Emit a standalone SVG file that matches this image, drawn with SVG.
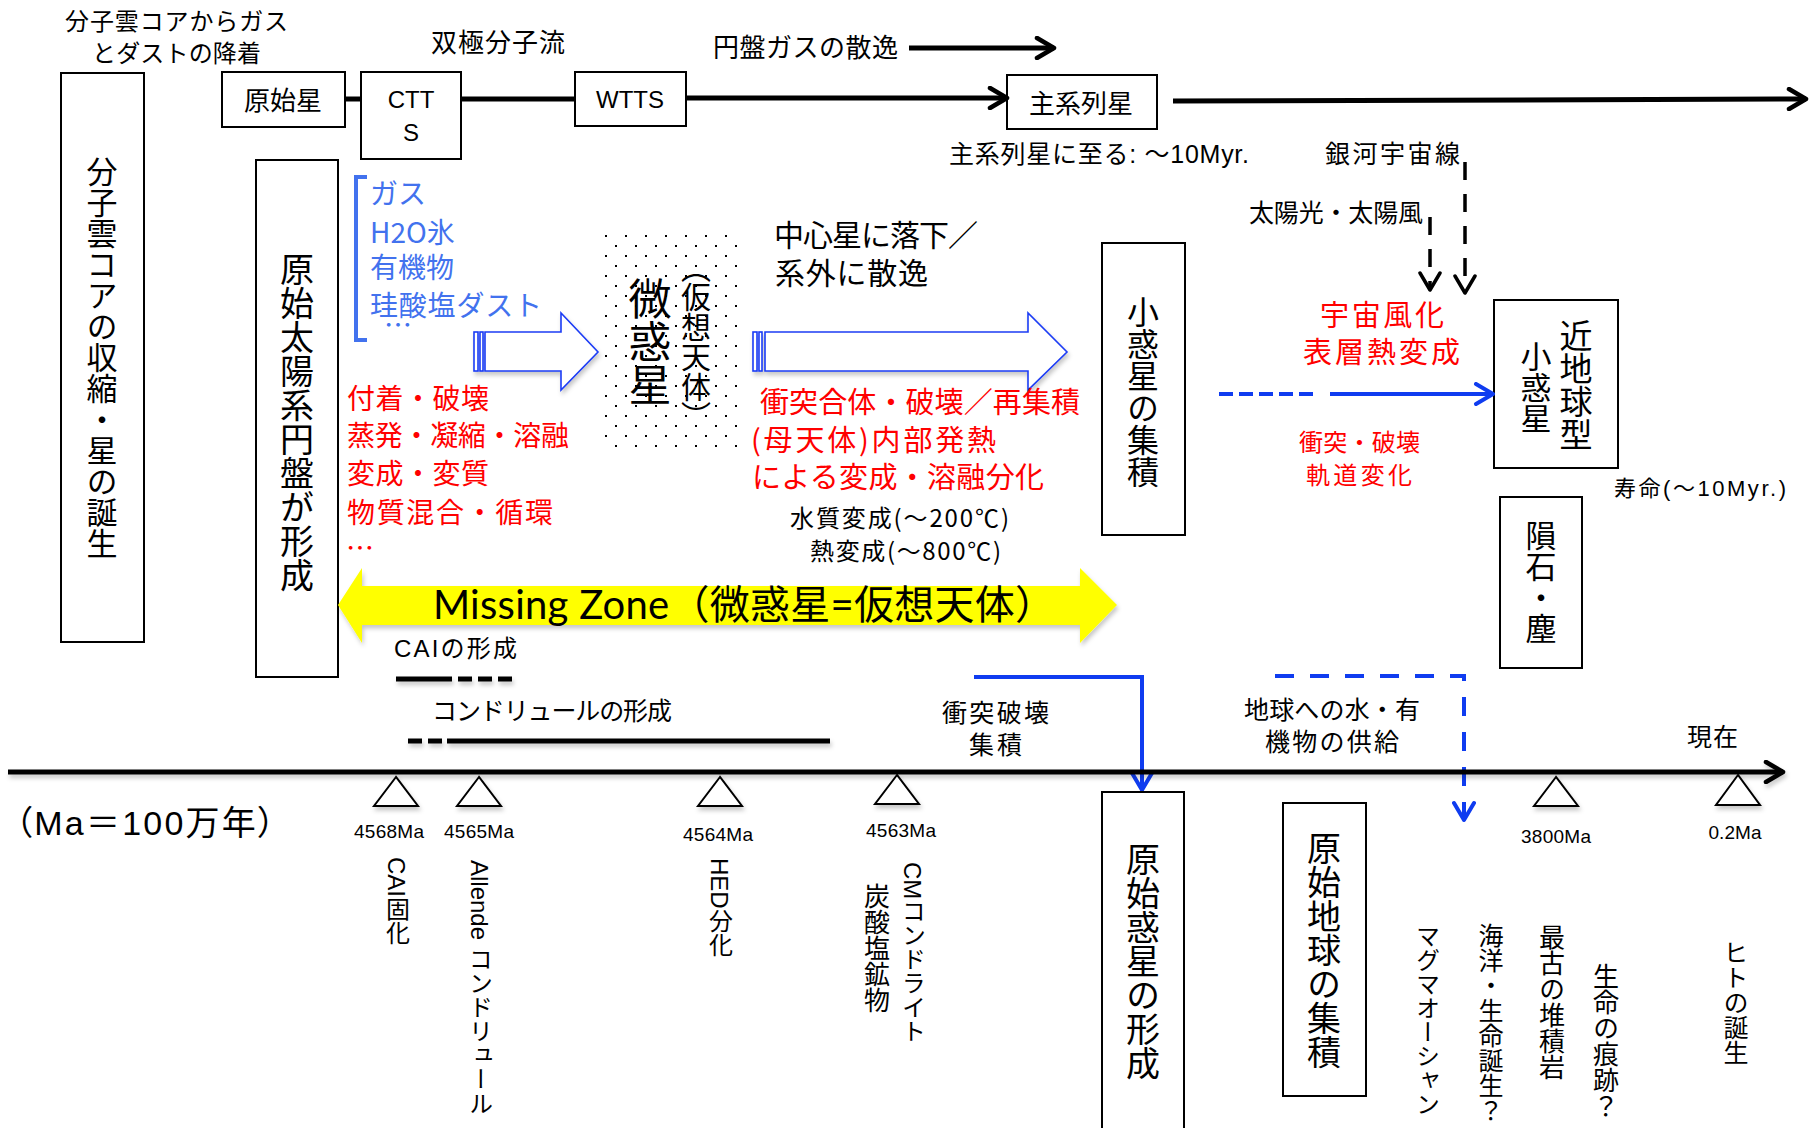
<svg xmlns="http://www.w3.org/2000/svg" width="1812" height="1128" viewBox="0 0 1812 1128">
<style>
text{font-family:"Noto Sans CJK JP","Liberation Sans",sans-serif;fill:#000}
.lat{font-family:"Liberation Sans","Noto Sans CJK JP",sans-serif}
.v{writing-mode:vertical-rl}
.red{fill:#FF0000}
.blu{fill:#4272EE}
.box{fill:#fff;stroke:#000;stroke-width:2}
.ln{stroke:#000;stroke-width:5;fill:none}
.bl{stroke:#0F3CF0;stroke-width:4;fill:none}
.dsh{stroke:#000;stroke-width:3.5;fill:none;stroke-dasharray:18 14}
.tri{fill:#fff;stroke:#000;stroke-width:2}
.ha{fill:#fff;stroke:#1C3CF5;stroke-width:1.6}
.ma{font-family:"Liberation Sans",sans-serif;font-size:19px;text-anchor:middle}
.sh{filter:url(#shadow)}
</style>
<defs>
<filter id="shadow" filterUnits="userSpaceOnUse" x="0" y="0" width="1812" height="1128"><feDropShadow dx="1.5" dy="3.5" stdDeviation="2" flood-color="#000" flood-opacity="0.22"/></filter>
<marker id="ak" viewBox="0 0 28 24" refX="21" refY="12" markerWidth="28" markerHeight="24" markerUnits="userSpaceOnUse" orient="auto"><path d="M4,2 L21,12 L4,22" fill="none" stroke="#000" stroke-width="4.5" stroke-linejoin="round" stroke-linecap="round"/></marker>
<marker id="akd" viewBox="0 0 26 24" refX="20" refY="12" markerWidth="26" markerHeight="24" markerUnits="userSpaceOnUse" orient="auto"><path d="M3,2 L20,12 L3,22" fill="none" stroke="#000" stroke-width="3.5" stroke-linejoin="round" stroke-linecap="round"/></marker>
<marker id="ab" viewBox="0 0 26 24" refX="20" refY="12" markerWidth="26" markerHeight="24" markerUnits="userSpaceOnUse" orient="auto"><path d="M3,2 L20,12 L3,22" fill="none" stroke="#0F3CF0" stroke-width="4" stroke-linejoin="round" stroke-linecap="round"/></marker>
<pattern id="dots" x="605" y="235" width="20" height="20" patternUnits="userSpaceOnUse"><rect x="0" y="0" width="2" height="2" fill="#000"/><rect x="10" y="10" width="2" height="2" fill="#000"/></pattern>
</defs>
<rect width="1812" height="1128" fill="#fff"/>

<!-- top labels -->
<g id="lbl-core-accretion">
<text font-size="24"><tspan x="65" y="30" textLength="223">分子雲コアからガス</tspan><tspan x="92" y="62" textLength="169">とダストの降着</tspan></text>
</g>
<g id="lbl-bipolar"><text x="431" y="52" font-size="26" textLength="134">双極分子流</text></g>
<g id="lbl-disk-gas"><text x="713" y="57" font-size="26" textLength="185">円盤ガスの散逸</text></g>

<!-- nodes: star evolution -->
<g id="node-protostar"><rect class="box" x="222" y="72" width="123" height="55"/><text x="283" y="110" font-size="26" text-anchor="middle">原始星</text></g>
<g id="node-ctts"><rect class="box" x="361" y="72" width="100" height="87"/><text class="lat" font-size="24" text-anchor="middle"><tspan x="411" y="108">CTT</tspan><tspan x="411" y="141">S</tspan></text></g>
<g id="node-wtts"><rect class="box" x="575" y="72" width="111" height="54"/><text class="lat" x="630" y="108" font-size="24" text-anchor="middle">WTTS</text></g>
<g id="node-mainseq"><rect class="box" x="1007" y="75" width="150" height="54"/><text x="1081" y="113" font-size="26" text-anchor="middle">主系列星</text></g>
<g id="lbl-to-mainseq"><text class="lat" x="949" y="163" font-size="25" textLength="300">主系列星に至る: ～10Myr.</text></g>
<g id="lbl-gcr"><text x="1325" y="163" font-size="25" textLength="135">銀河宇宙線</text></g>
<g id="lbl-sun"><text x="1249" y="222" font-size="25" textLength="174">太陽光・太陽風</text></g>

<!-- big vertical boxes -->
<g id="node-cloud-core"><rect class="box" x="61" y="73" width="83" height="569"/><text class="v" x="102" y="357" font-size="31" text-anchor="middle">分子雲コアの収縮・星の誕生</text></g>
<g id="node-disk"><rect class="box" x="256" y="160" width="82" height="517"/><text class="v" x="297" y="422" font-size="34" text-anchor="middle">原始太陽系円盤が形成</text></g>

<!-- blue material list -->
<g id="lbl-materials">
<path d="M367,177 H356 V340 H367" fill="none" stroke="#4272EE" stroke-width="4"/>
<text class="blu" font-size="28"><tspan x="370" y="204">ガス</tspan><tspan x="370" y="243">H2O氷</tspan><tspan x="370" y="278">有機物</tspan><tspan x="370" y="316" textLength="172">珪酸塩ダスト</tspan><tspan x="384" y="336">…</tspan></text>
</g>

<!-- red process list -->
<g id="lbl-processes">
<text class="red" font-size="28"><tspan x="347" y="409" textLength="142">付着・破壊</tspan><tspan x="347" y="446" textLength="222">蒸発・凝縮・溶融</tspan><tspan x="347" y="484" textLength="142">変成・変質</tspan><tspan x="347" y="523" textLength="206">物質混合・循環</tspan><tspan x="346" y="559">…</tspan></text>
</g>

<!-- hollow arrows -->
<g id="arrow-to-planetesimal" class="sh">
<rect class="ha" x="474" y="332" width="4" height="39"/><rect class="ha" x="480" y="332" width="3" height="39"/>
<polygon class="ha" points="485,332 561,332 561,313 598,352 561,390 561,371 485,371"/>
</g>
<g id="arrow-to-asteroid" class="sh">
<rect class="ha" x="753" y="332" width="4" height="39"/><rect class="ha" x="759" y="332" width="3" height="39"/>
<polygon class="ha" points="765,332 1028,332 1028,313 1067,352 1028,390 1028,371 765,371"/>
</g>

<!-- planetesimal -->
<g id="node-planetesimal">
<rect x="603" y="233" width="134" height="214" fill="url(#dots)"/>
<text class="v" x="650" y="342" font-size="43" text-anchor="middle" fill="#3F6FE8">微惑星</text>
<text class="v" x="696" y="342" font-size="30" text-anchor="middle" fill="#5580F0" style="font-feature-settings:'vpal'">（仮想天体）</text>
</g>

<g id="lbl-fall"><text font-size="30"><tspan x="774" y="246" textLength="204">中心星に落下／</tspan><tspan x="775" y="284" textLength="153">系外に散逸</tspan></text></g>
<g id="lbl-collision">
<text class="red" font-size="29"><tspan x="760" y="413" textLength="320">衝突合体・破壊／再集積</tspan><tspan x="751" y="451" textLength="245">(母天体)内部発熱</tspan><tspan x="752" y="488" textLength="292">による変成・溶融分化</tspan></text>
</g>
<g id="lbl-alteration">
<text font-size="24"><tspan x="790" y="527" textLength="219">水質変成(～200℃)</tspan><tspan x="810" y="560" textLength="191">熱変成(～800℃)</tspan></text>
</g>

<!-- asteroid side -->
<g id="node-asteroid-accretion"><rect class="box" x="1102" y="243" width="83" height="292"/><text class="v" x="1143" y="392" font-size="32" text-anchor="middle">小惑星の集積</text></g>
<g id="lbl-weathering">
<text class="red" font-size="29"><tspan x="1320" y="326" textLength="124">宇宙風化</tspan><tspan x="1303" y="363" textLength="157">表層熱変成</tspan></text>
</g>
<g id="lbl-orbit">
<text class="red" font-size="24"><tspan x="1299" y="451" textLength="121">衝突・破壊</tspan><tspan x="1306" y="484" textLength="106">軌道変化</tspan></text>
</g>
<g id="node-nea"><rect class="box" x="1494" y="300" width="124" height="168"/>
<text class="v" x="1576" y="385" font-size="33" text-anchor="middle">近地球型</text>
<text class="v" x="1536" y="387" font-size="31" text-anchor="middle">小惑星</text></g>
<g id="lbl-life"><text class="lat" x="1614" y="496" font-size="22" textLength="172">寿命(～10Myr.)</text></g>
<g id="node-meteorite"><rect class="box" x="1500" y="497" width="82" height="171"/><text class="v" x="1541" y="582" font-size="31" text-anchor="middle">隕石・塵</text></g>

<!-- missing zone -->
<g id="missing-zone">
<polygon class="sh" points="338,605 362,568 362,586 1080,586 1080,568 1117,605 1080,643 1080,625 362,625 362,643" fill="#FFFF00"/>
<text x="433" y="619" font-size="40" textLength="622" style="font-family:Lato,'Noto Sans CJK JP',sans-serif">Missing Zone（微惑星=仮想天体）</text>
</g>

<!-- periods -->
<g id="period-cai">
<text class="lat" x="394" y="657" font-size="24" textLength="123">CAIの形成</text>
<g class="sh"><line x1="396" y1="679" x2="452" y2="679" stroke="#000" stroke-width="5"/>
<line x1="458" y1="679" x2="514" y2="679" stroke="#000" stroke-width="5" stroke-dasharray="14 6"/></g>
</g>
<g id="period-chondrule">
<text x="432" y="720" font-size="25" textLength="240">コンドリュールの形成</text>
<g class="sh"><line x1="408" y1="741" x2="443" y2="741" stroke="#000" stroke-width="5" stroke-dasharray="14 6"/>
<line x1="447" y1="741" x2="830" y2="741" stroke="#000" stroke-width="5"/></g>
</g>
<g id="lbl-impact"><text font-size="25"><tspan x="942" y="722" textLength="107">衝突破壊</tspan><tspan x="969" y="754" textLength="53">集積</tspan></text></g>
<g id="lbl-supply"><text font-size="25"><tspan x="1244" y="719" textLength="176">地球への水・有</tspan><tspan x="1265" y="751" textLength="134">機物の供給</tspan></text></g>
<g id="lbl-now"><text x="1687" y="746" font-size="25" textLength="51">現在</text></g>
<g id="lbl-unit"><text class="lat" x="15" y="835" font-size="34" textLength="260" style="font-feature-settings:'palt'">（Ma＝100万年）</text></g>

<!-- connectors -->
<g id="connectors">
<line class="ln" x1="345" y1="99" x2="361" y2="99"/>
<line class="ln" x1="461" y1="99" x2="575" y2="99"/>
<line class="ln" x1="686" y1="98" x2="1007" y2="98" marker-end="url(#ak)"/>
<line class="ln" x1="1173" y1="101" x2="1806" y2="99" marker-end="url(#ak)"/>
<line class="ln" x1="909" y1="48" x2="1054" y2="48" marker-end="url(#ak)"/>
<line class="dsh" x1="1465" y1="162" x2="1465" y2="293" marker-end="url(#akd)"/>
<line class="dsh" x1="1430" y1="217" x2="1430" y2="290" marker-end="url(#akd)"/>
<line class="bl" x1="1219" y1="394" x2="1313" y2="394" stroke-dasharray="14 6"/>
<line class="bl" x1="1330" y1="394" x2="1493" y2="394" marker-end="url(#ab)"/>
<path class="bl" d="M974,677 H1142 V790" marker-end="url(#ab)"/>
<path class="bl" d="M1275,676 H1464 V820" stroke-dasharray="19 16" marker-end="url(#ab)"/>
<line class="ln sh" x1="8" y1="772" x2="1783" y2="772" marker-end="url(#ak)"/>
</g>

<!-- timeline markers -->
<g id="tick-4568"><polygon class="tri sh" points="396,777 374,806 418,806"/><text class="ma" x="389" y="838" textLength="70">4568Ma</text><text class="v lat" x="396" y="857" font-size="24">CAI固化</text></g>
<g id="tick-4565"><polygon class="tri sh" points="479,777 457,806 501,806"/><text class="ma" x="479" y="838" textLength="70">4565Ma</text><text class="v lat" x="479" y="860" font-size="24">Allende コンドリュール</text></g>
<g id="tick-4564"><polygon class="tri sh" points="720,777 698,806 742,806"/><text class="ma" x="718" y="841" textLength="70">4564Ma</text><text class="v lat" x="719" y="858" font-size="24">HED分化</text></g>
<g id="tick-4563"><polygon class="tri sh" points="897,775 875,804 919,804"/><text class="ma" x="901" y="837" textLength="70">4563Ma</text><text class="v lat" x="912" y="862" font-size="24">CMコンドライト</text><text class="v" x="877" y="883" font-size="26">炭酸塩鉱物</text></g>
<g id="tick-3800"><polygon class="tri sh" points="1556,777 1534,806 1578,806"/><text class="ma" x="1556" y="843" textLength="70">3800Ma</text></g>
<g id="tick-02"><polygon class="tri sh" points="1738,775 1716,805 1760,805"/><text class="ma" x="1735" y="839" textLength="53">0.2Ma</text></g>

<g id="node-protoplanet"><rect class="box" x="1102" y="792" width="82" height="345"/><text class="v" x="1143" y="961" font-size="34" text-anchor="middle">原始惑星の形成</text></g>
<g id="node-protoearth"><rect class="box" x="1283" y="803" width="83" height="293"/><text class="v" x="1324" y="950" font-size="34" text-anchor="middle">原始地球の集積</text></g>
<g id="ev-magma"><text class="v" x="1428" y="924" font-size="24">マグマオーシャン</text></g>
<g id="ev-ocean"><text class="v" x="1491" y="923" font-size="25">海洋・生命誕生？</text></g>
<g id="ev-rock"><text class="v" x="1552" y="924" font-size="26">最古の堆積岩</text></g>
<g id="ev-trace"><text class="v" x="1606" y="963" font-size="26">生命の痕跡？</text></g>
<g id="ev-human"><text class="v" x="1736" y="940" font-size="25">ヒトの誕生</text></g>
</svg>
